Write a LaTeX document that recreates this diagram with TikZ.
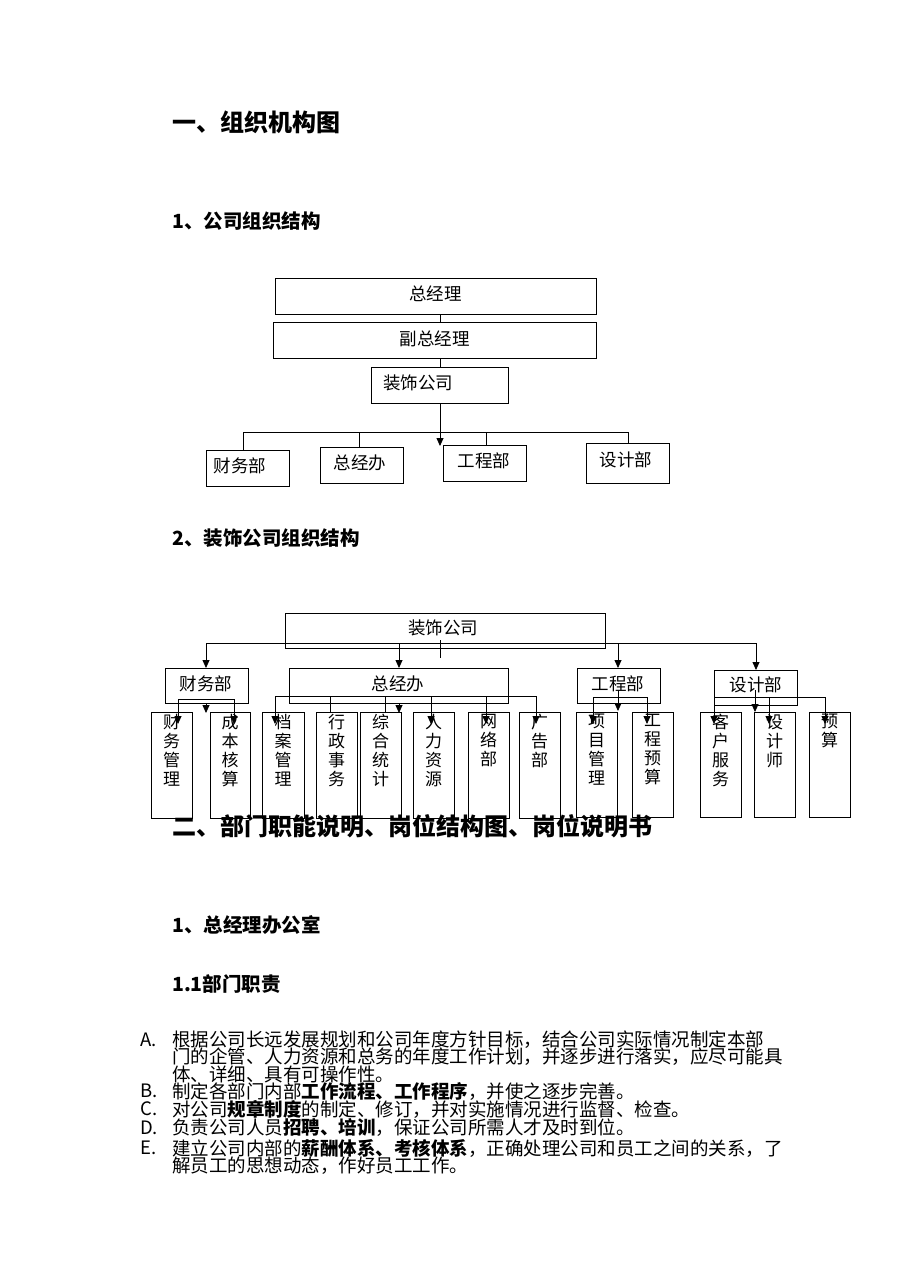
\documentclass[tikz,border=0pt]{standalone}
\usepackage{fontspec}
\setmainfont{Noto Sans CJK SC}
\usetikzlibrary{arrows.meta}
\begin{document}
\begin{tikzpicture}[x=1pt,y=-1pt,
 box/.style={draw,line width=1pt,inner sep=0pt},
 ln/.style={line width=0.8pt},
 ar/.style={line width=0.8pt,-{Triangle[length=8pt,width=7pt]}},
 t/.style={font=\fontsize{17.5}{17.5}\selectfont},
 vt/.style={font=\fontsize{17}{19}\selectfont,align=center,anchor=north,inner sep=0pt},
 h1/.style={font=\fontsize{24}{24}\selectfont\bfseries,anchor=west,inner sep=0pt},
 h2/.style={font=\fontsize{19.5}{19.5}\selectfont\bfseries,anchor=west,inner sep=0pt},
 li/.style={font=\fontsize{18.5}{18.5}\selectfont,anchor=west,inner sep=0pt}]
\useasboundingbox (0,0) rectangle (909,1286);
\node[h1] (H1) at (172,122) {一、组织机构图};
\node[h2] (H2) at (172,221) {1、公司组织结构};
\node[h2] (H3) at (172,538) {2、装饰公司组织结构};
% chart 1
\node[box,minimum width=321,minimum height=36] (zjl) at (435.5,296) {};
\node[t] (zjlt) at (435.5,294) {总经理};
\node[box,minimum width=323,minimum height=36] (fzjl) at (434.5,340) {};
\node[t] (fzjlt) at (434.5,339) {副总经理};
\node[box,minimum width=137,minimum height=36] (zsgs) at (439.5,385) {};
\node[t] (zsgst) at (418,383) {装饰公司};
\draw[ln] (440,314) -- (440,322);
\draw[ln] (440,358) -- (440,367);
\draw[ar] (440,403) -- (440,446);
\draw[ln] (243,432) -- (628,432);
\node[box,minimum width=83,minimum height=36] (cw1) at (247.5,468) {};
\node[t] at (240,466) {财务部};
\node[box,minimum width=83,minimum height=36] (zjb1) at (361.5,465) {};
\node[t] at (360,463) {总经办};
\node[box,minimum width=83,minimum height=36] (gc1) at (484.5,463) {};
\node[t] at (484,461) {工程部};
\node[box,minimum width=83,minimum height=40] (sj1) at (627.5,463) {};
\node[t] at (626,460) {设计部};
\draw[ln] (243,432) -- (243,450);
\draw[ln] (359,432) -- (359,447);
\draw[ln] (486,432) -- (486,445);
\draw[ln] (628,432) -- (628,443);
% chart 2
\node[box,minimum width=320,minimum height=35] (zs2) at (445,630.5) {};
\node[t] at (443,628) {装饰公司};
\draw[ln] (440,640) -- (440,658);
\draw[ln] (206,643) -- (756,643);
\node[box,minimum width=83,minimum height=35] (cw2) at (206.5,685.5) {};
\node[t] at (206,684) {财务部};
\node[box,minimum width=219,minimum height=35] (zjb2) at (398.5,685.5) {};
\node[t] at (398,684) {总经办};
\node[box,minimum width=83,minimum height=35] (gc2) at (618.5,685.5) {};
\node[t] at (618,684) {工程部};
\node[box,minimum width=83,minimum height=35] (sj2) at (755.5,687.5) {};
\node[t] at (756,685) {设计部};
\draw[ar] (206,643) -- (206,668);
\draw[ar] (399,643) -- (399,668);
\draw[ar] (618,643) -- (618,668);
\draw[ar] (756,643) -- (756,670);
% tall boxes
\foreach \n/\a/\b/\bot/\txt in {
 cwgl/151/192/818/财\\务\\管\\理, cbhs/210/250/818/成\\本\\核\\算,
 dagl/262/304/818/档\\案\\管\\理, xzsw/316/357/818/行\\政\\事\\务,
 zhtj/360/401/818/综\\合\\统\\计, rlzy/413/454/818/人\\力\\资\\源,
 wlb/468/509/818/网\\络\\部, ggb/519/560/818/广\\告\\部,
 xmgl/576/617/817/项\\目\\管\\理, gcys/632/673/817/工\\程\\预\\算,
 khfw/700/741/817/客\\户\\服\\务, sjs/754/795/817/设\\计\\师,
 ys/809/850/817/预\\算}
{\draw[line width=1pt] (\a,712) rectangle (\b,\bot);
 \node[vt] (\n) at ({(\a+\b)/2},714) {\txt};}
% 财务部 inner
\draw[ar] (206,703) -- (206,713);
\draw[ln] (178,699) -- (234,699);
\draw[ar] (178,699) -- (178,724);
\draw[ar] (234,699) -- (234,724);
% 总经办 inner
\draw[ln] (275,696) -- (536,696);
\draw[ar] (275,696) -- (275,724);
\draw[ln] (330,696) -- (330,712);
\draw[ln] (385,696) -- (385,712);
\draw[ar] (399,703) -- (399,713);
\draw[ar] (431,696) -- (431,724);
\draw[ar] (486,696) -- (486,724);
\draw[ar] (536,696) -- (536,724);
% 工程部 inner
\draw[ln] (593,697) -- (647,697);
\draw[ar] (593,697) -- (593,724);
\draw[ar] (647,697) -- (647,724);
\draw[ar] (618,690) -- (618,711);
% 设计部 inner
\draw[ln] (714,697) -- (825,697);
\draw[ar] (714,697) -- (714,724);
\draw[ar] (755,690) -- (755,712);
\draw[ar] (769,697) -- (769,724);
\draw[ar] (825,697) -- (825,724);
% section 2
\node[h1] (H4) at (172,826) {二、部门职能说明、岗位结构图、岗位说明书};
\node[h2] (H5) at (172,925) {1、总经理办公室};
\node[h2] (H6) at (172,984) {1.1部门职责};
\node[li] (LA) at (140,1040) {A.};
\node[li] (lA1) at (172,1040) {根据公司长远发展规划和公司年度方针目标，结合公司实际情况制定本部};
\node[li] (lA2) at (172,1057) {门的企管、人力资源和总务的年度工作计划，并逐步进行落实，应尽可能具};
\node[li] (lA3) at (172,1074) {体、详细、具有可操作性。};
\node[li] (LB) at (140,1091) {B.};
\node[li] (lB) at (172,1091) {制定各部门内部\textbf{工作流程、工作程序}，并使之逐步完善。};
\node[li] (LC) at (140,1109) {C.};
\node[li] (lC) at (172,1109) {对公司\textbf{规章制度}的制定、修订，并对实施情况进行监督、检查。};
\node[li] (LD) at (140,1128) {D.};
\node[li] (lD) at (172,1128) {负责公司人员\textbf{招聘、培训}，保证公司所需人才及时到位。};
\node[li] (LE) at (140,1148) {E.};
\node[li] (lE1) at (172,1148) {建立公司内部的\textbf{薪酬体系、考核体系}，正确处理公司和员工之间的关系，了};
\node[li] (lE2) at (172,1166) {解员工的思想动态，作好员工工作。};
\end{tikzpicture}
\end{document}
